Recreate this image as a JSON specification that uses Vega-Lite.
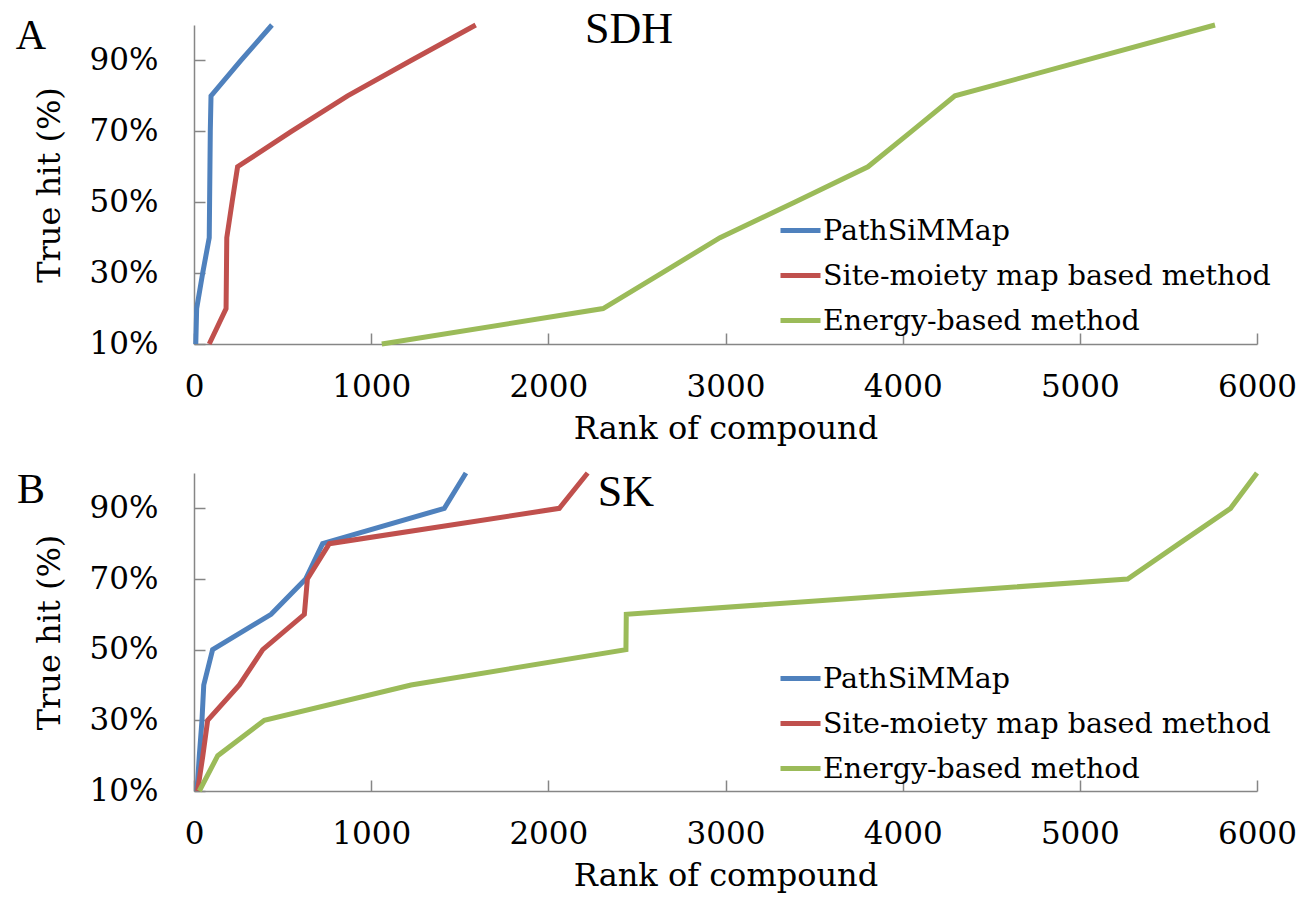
{
  "$schema": "https://vega.github.io/schema/vega-lite/v6.json",
  "background": "white",
  "padding": {"left": 15, "top": 7, "right": 0, "bottom": 8},
  "autosize": {"type": "pad"},
  "config": {
    "font": "Liberation Serif",
    "view": {"stroke": null},
    "concat": {"spacing": 129},
    "axis": {
      "domainColor": "#868686", "domainWidth": 1.5,
      "tickColor": "#868686", "tickWidth": 1.5, "tickSize": -11,
      "grid": false, "labelFlush": false,
      "labelFont": "DejaVu Serif", "titleFont": "DejaVu Serif",
      "labelFontSize": 31, "labelColor": "black",
      "titleFontSize": 32, "titleFontWeight": "normal", "titleColor": "black"
    },
    "legend": {
      "orient": "none", "legendX": 584, "legendY": 183,
      "symbolType": "stroke", "symbolStrokeWidth": 5, "symbolSize": 1600,
      "labelFont": "DejaVu Serif",
      "labelFontSize": 28.5, "labelColor": "black",
      "rowPadding": 8, "labelOffset": 0, "padding": 0, "labelLimit": 0, "title": null
    }
  },
  "datasets": {
    "sdh": [
      {"method": "PathSiMMap", "rank": 10, "hit": 0.1},
      {"method": "PathSiMMap", "rank": 15, "hit": 0.2},
      {"method": "PathSiMMap", "rank": 49, "hit": 0.3},
      {"method": "PathSiMMap", "rank": 86, "hit": 0.4},
      {"method": "PathSiMMap", "rank": 88, "hit": 0.5},
      {"method": "PathSiMMap", "rank": 90, "hit": 0.6},
      {"method": "PathSiMMap", "rank": 92, "hit": 0.7},
      {"method": "PathSiMMap", "rank": 96, "hit": 0.8},
      {"method": "PathSiMMap", "rank": 265, "hit": 0.9},
      {"method": "PathSiMMap", "rank": 440, "hit": 1.0},
      {"method": "Site-moiety map based method", "rank": 86, "hit": 0.1},
      {"method": "Site-moiety map based method", "rank": 181, "hit": 0.2},
      {"method": "Site-moiety map based method", "rank": 183, "hit": 0.3},
      {"method": "Site-moiety map based method", "rank": 185, "hit": 0.4},
      {"method": "Site-moiety map based method", "rank": 215, "hit": 0.5},
      {"method": "Site-moiety map based method", "rank": 246, "hit": 0.6},
      {"method": "Site-moiety map based method", "rank": 550, "hit": 0.7},
      {"method": "Site-moiety map based method", "rank": 867, "hit": 0.8},
      {"method": "Site-moiety map based method", "rank": 1225, "hit": 0.9},
      {"method": "Site-moiety map based method", "rank": 1590, "hit": 1.0},
      {"method": "Energy-based method", "rank": 1060, "hit": 0.1},
      {"method": "Energy-based method", "rank": 2309, "hit": 0.2},
      {"method": "Energy-based method", "rank": 2640, "hit": 0.3},
      {"method": "Energy-based method", "rank": 2969, "hit": 0.4},
      {"method": "Energy-based method", "rank": 3390, "hit": 0.5},
      {"method": "Energy-based method", "rank": 3804, "hit": 0.6},
      {"method": "Energy-based method", "rank": 4050, "hit": 0.7},
      {"method": "Energy-based method", "rank": 4295, "hit": 0.8},
      {"method": "Energy-based method", "rank": 5030, "hit": 0.9},
      {"method": "Energy-based method", "rank": 5763, "hit": 1.0}
    ],
    "sk": [
      {"method": "PathSiMMap", "rank": 17, "hit": 0.1},
      {"method": "PathSiMMap", "rank": 30, "hit": 0.2},
      {"method": "PathSiMMap", "rank": 45, "hit": 0.3},
      {"method": "PathSiMMap", "rank": 55, "hit": 0.4},
      {"method": "PathSiMMap", "rank": 105, "hit": 0.5},
      {"method": "PathSiMMap", "rank": 435, "hit": 0.6},
      {"method": "PathSiMMap", "rank": 630, "hit": 0.7},
      {"method": "PathSiMMap", "rank": 726, "hit": 0.8},
      {"method": "PathSiMMap", "rank": 1413, "hit": 0.9},
      {"method": "PathSiMMap", "rank": 1535, "hit": 1.0},
      {"method": "Site-moiety map based method", "rank": 20, "hit": 0.1},
      {"method": "Site-moiety map based method", "rank": 50, "hit": 0.2},
      {"method": "Site-moiety map based method", "rank": 77, "hit": 0.3},
      {"method": "Site-moiety map based method", "rank": 256, "hit": 0.4},
      {"method": "Site-moiety map based method", "rank": 388, "hit": 0.5},
      {"method": "Site-moiety map based method", "rank": 623, "hit": 0.6},
      {"method": "Site-moiety map based method", "rank": 640, "hit": 0.7},
      {"method": "Site-moiety map based method", "rank": 764, "hit": 0.8},
      {"method": "Site-moiety map based method", "rank": 2062, "hit": 0.9},
      {"method": "Site-moiety map based method", "rank": 2222, "hit": 1.0},
      {"method": "Energy-based method", "rank": 30, "hit": 0.1},
      {"method": "Energy-based method", "rank": 134, "hit": 0.2},
      {"method": "Energy-based method", "rank": 397, "hit": 0.3},
      {"method": "Energy-based method", "rank": 1225, "hit": 0.4},
      {"method": "Energy-based method", "rank": 2438, "hit": 0.5},
      {"method": "Energy-based method", "rank": 2440, "hit": 0.6},
      {"method": "Energy-based method", "rank": 5270, "hit": 0.7},
      {"method": "Energy-based method", "rank": 5560, "hit": 0.8},
      {"method": "Energy-based method", "rank": 5851, "hit": 0.9},
      {"method": "Energy-based method", "rank": 6000, "hit": 1.0}
    ]
  },
  "bounds": "flush",
  "resolve": {"legend": {"color": "independent"}},
  "vconcat": [
    {
      "width": 1063, "height": 319,
      "layer": [
        {
          "data": {"name": "sdh"},
          "mark": {"type": "line", "strokeWidth": 5},
          "encoding": {
            "x": {"field": "rank", "type": "quantitative", "scale": {"domain": [0, 6000], "nice": false}, "axis": {"values": [0, 1000, 2000, 3000, 4000, 5000, 6000], "format": "d", "title": "Rank of compound", "labelPadding": 39, "titlePadding": 11}},
            "y": {"field": "hit", "type": "quantitative", "scale": {"domain": [0.1, 1.0], "nice": false, "zero": false}, "axis": {"values": [0.1, 0.3, 0.5, 0.7, 0.9], "format": ".0%", "title": "True hit (%)", "labelPadding": 47, "titlePadding": 23}},
            "color": {"field": "method", "type": "nominal", "scale": {"domain": ["PathSiMMap", "Site-moiety map based method", "Energy-based method"], "range": ["#4F81BD", "#C0504D", "#9BBB59"]}},
            "order": {"field": "hit", "type": "quantitative"}
          }
        },
        {
          "data": {"values": [{}]},
          "mark": {"type": "text", "fontSize": 44, "align": "center", "baseline": "alphabetic", "color": "black"},
          "encoding": {"x": {"datum": 2455}, "y": {"datum": 0.95}, "text": {"value": "SDH"}}
        },
        {
          "data": {"values": [{}]},
          "mark": {"type": "text", "fontSize": 42, "align": "center", "baseline": "alphabetic", "color": "black"},
          "encoding": {"x": {"datum": -920}, "y": {"datum": 0.932}, "text": {"value": "A"}}
        }
      ]
    },
    {
      "width": 1063, "height": 318,
      "layer": [
        {
          "data": {"name": "sk"},
          "mark": {"type": "line", "strokeWidth": 5},
          "encoding": {
            "x": {"field": "rank", "type": "quantitative", "scale": {"domain": [0, 6000], "nice": false}, "axis": {"values": [0, 1000, 2000, 3000, 4000, 5000, 6000], "format": "d", "title": "Rank of compound", "labelPadding": 39, "titlePadding": 11}},
            "y": {"field": "hit", "type": "quantitative", "scale": {"domain": [0.1, 1.0], "nice": false, "zero": false}, "axis": {"values": [0.1, 0.3, 0.5, 0.7, 0.9], "format": ".0%", "title": "True hit (%)", "labelPadding": 47, "titlePadding": 23}},
            "color": {"field": "method", "type": "nominal", "scale": {"domain": ["PathSiMMap", "Site-moiety map based method", "Energy-based method"], "range": ["#4F81BD", "#C0504D", "#9BBB59"]}},
            "order": {"field": "hit", "type": "quantitative"}
          }
        },
        {
          "data": {"values": [{}]},
          "mark": {"type": "text", "fontSize": 44, "align": "center", "baseline": "alphabetic", "color": "black"},
          "encoding": {"x": {"datum": 2438}, "y": {"datum": 0.908}, "text": {"value": "SK"}}
        },
        {
          "data": {"values": [{}]},
          "mark": {"type": "text", "fontSize": 42, "align": "center", "baseline": "alphabetic", "color": "black"},
          "encoding": {"x": {"datum": -920}, "y": {"datum": 0.914}, "text": {"value": "B"}}
        }
      ]
    }
  ]
}
